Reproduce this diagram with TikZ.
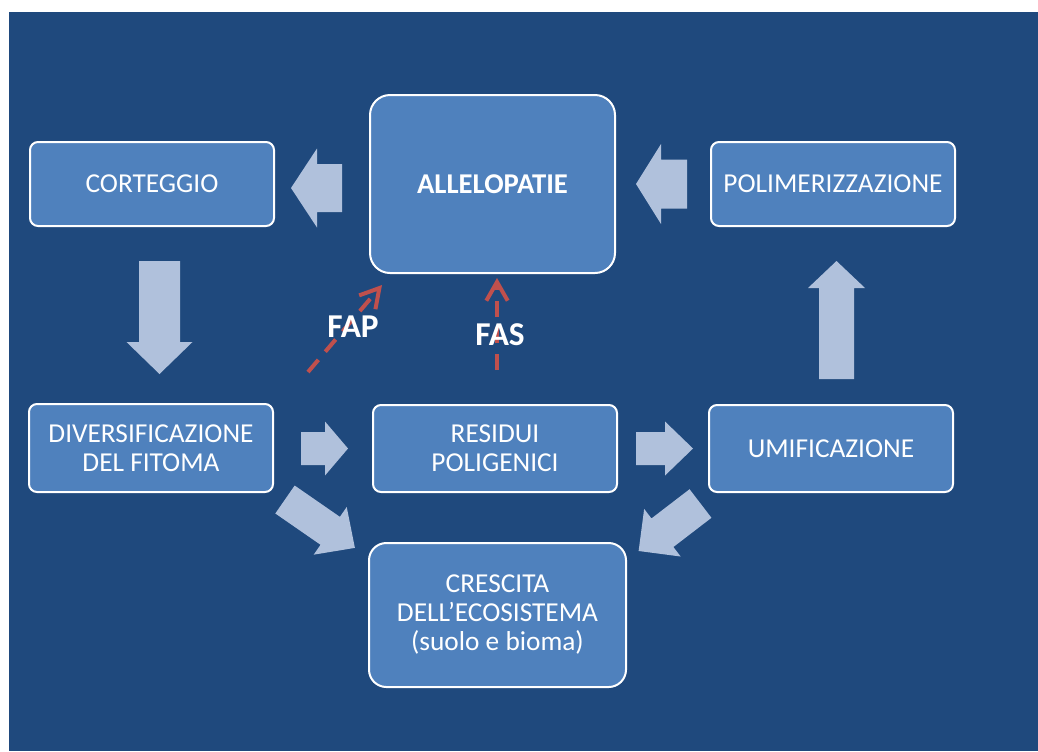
\documentclass[tikz,border=0pt]{standalone}
\usepackage{fontspec}
\setmainfont{Carlito}
\usetikzlibrary{arrows.meta}
\definecolor{bgblue}{HTML}{1F497D}
\definecolor{boxblue}{HTML}{4F81BD}
\definecolor{arrowblue}{HTML}{B0C1DC}
\definecolor{fared}{HTML}{C0504D}
% #1,#2 back centre; #3 angle; #4 length; #5 head length; #6 shaft half width; #7 head half width
\newcommand\blockarr[7]{%
  \fill[arrowblue,shift={(#1,#2)},rotate=#3] (0,-#6) -- ({#4-#5},-#6) -- ({#4-#5},-#7) -- (#4,0) -- ({#4-#5},#7) -- ({#4-#5},#6) -- (0,#6) -- cycle;}
\tikzset{
  box/.style={draw=white, line width=1.5pt, fill=boxblue, rounded corners=6pt, text=white,
    align=center, minimum width=183pt, minimum height=63pt, inner sep=0pt,
    font=\fontsize{20.5}{21.75}\selectfont},
  lbl/.style={text=white, inner sep=0pt, font=\fontsize{25}{28}\selectfont\bfseries},
  faarrow/.style={fared, line width=3pt, dash pattern=on 12pt off 8pt,
    -{Straight Barb[length=14pt,width=16pt]}},
}
\begin{document}
\begin{tikzpicture}[x=0.75pt,y=-0.75pt]
\useasboundingbox (0,0) rectangle (1038,751);
\fill[white] (0,0) rectangle (1038,751);
\fill[bgblue] (9,12) rectangle (1038,751);

% boxes
\node[box] (cort) at (152,184) {CORTEGGIO};
\node[box, minimum width=183.75pt, minimum height=133.5pt, rounded corners=15pt,
  font=\fontsize{21.5}{23}\selectfont\bfseries] (allel) at (492.5,184) {ALLELOPATIE};
\node[box] (polim) at (833,184) {POLIMERIZZAZIONE};
\node[box, minimum height=66pt] (div) at (151,448) {DIVERSIFICAZIONE\\DEL FITOMA};
\node[box, minimum height=65.25pt] (res) at (495,448.5) {RESIDUI\\POLIGENICI};
\node[box, minimum height=65.25pt] (umif) at (831,448.5) {UMIFICAZIONE};
\node[box, minimum width=192.75pt, minimum height=108pt, rounded corners=13pt] (cres) at (497.5,615)
  {CRESCITA\\DELL’ECOSISTEMA\\(suolo e bioma)};

% block arrows
\blockarr{342}{188}{180}{51}{26}{24}{39.5}
\blockarr{687}{184}{180}{51}{25}{24.5}{40}
\blockarr{159.5}{261}{-90}{113}{32}{20.5}{33}
\blockarr{301}{448.5}{0}{47}{23}{16.5}{27}
\blockarr{636}{448.5}{0}{57}{28}{16.5}{27}
\blockarr{836.5}{379}{90}{118}{27}{17.5}{28.5}
\blockarr{285}{499.5}{-34.7}{85}{30}{17}{29}
\blockarr{700.5}{503.5}{-142.5}{78}{30}{18}{30}

% dashed red arrows
\coordinate (fapS) at (308,372);
\coordinate (fapE) at (382,285);
\coordinate (fasS) at (497,370);
\coordinate (fasE) at (497,278);
\draw[faarrow] (fapS) -- (fapE);
\draw[faarrow] (fasS) -- (fasE);
\node[lbl] (fap) at (353,327) {FAP};
\node[lbl] (fas) at (500,335) {FAS};
\end{tikzpicture}
\end{document}
